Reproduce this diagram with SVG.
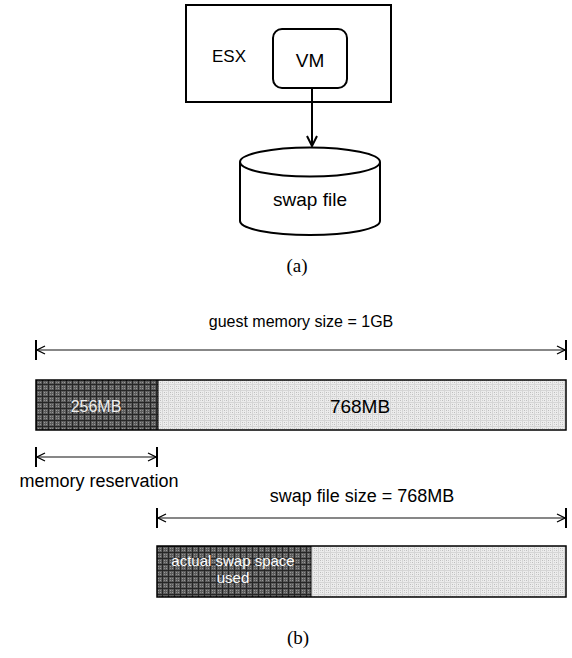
<svg xmlns="http://www.w3.org/2000/svg" width="572" height="658" viewBox="0 0 572 658">
<style>
.lbl{font-family:"Liberation Sans",Arial,sans-serif;fill:#000}
.cap{font-family:"Liberation Serif","Times New Roman",serif;fill:#000;font-size:19px}
.shape{fill:#fff;stroke:#000;stroke-width:2}
.dim{stroke:#111;stroke-width:1.2;fill:none}
.tick{stroke:#000;stroke-width:2}
</style>
<defs>
<pattern id="dark" width="6" height="6" patternUnits="userSpaceOnUse">
<rect width="6" height="6" fill="#5c5c5c"/>
<rect x="2" y="2" width="1" height="1" fill="#9a9a9a"/>
<rect x="4" y="4" width="1" height="1" fill="#9a9a9a"/>
<rect x="2" y="4" width="1" height="1" fill="#8a8a8a"/>
<rect x="4" y="2" width="1" height="1" fill="#8a8a8a"/>
<rect x="0" y="0" width="6" height="1" fill="#262626"/>
<rect x="0" y="0" width="1" height="6" fill="#262626"/>
</pattern>
<pattern id="light" width="6" height="6" patternUnits="userSpaceOnUse">
<rect width="6" height="6" fill="#ececec"/>
<rect x="2" y="2" width="1" height="1" fill="#bdbdbd"/>
<rect x="4" y="4" width="1" height="1" fill="#bdbdbd"/>
<rect x="2" y="4" width="1" height="1" fill="#cfcfcf"/>
<rect x="4" y="2" width="1" height="1" fill="#cfcfcf"/>
<rect x="0" y="0" width="6" height="1" fill="#d6d6d6"/>
<rect x="0" y="0" width="1" height="6" fill="#d6d6d6"/>
</pattern>
<marker id="open" viewBox="0 0 10 10" refX="9" refY="5" markerWidth="10" markerHeight="10" markerUnits="userSpaceOnUse" orient="auto-start-reverse">
<path d="M1,1 L9,5 L1,9" fill="none" stroke="#000" stroke-width="1.3"/>
</marker>
<marker id="down" viewBox="0 0 12 12" refX="11" refY="6" markerWidth="12" markerHeight="12" markerUnits="userSpaceOnUse" orient="auto">
<path d="M1,1 L11,6 L1,11" fill="none" stroke="#000" stroke-width="2"/>
</marker>
</defs>
<rect width="572" height="658" fill="#fff"/>

<g id="esx">
<rect class="shape" x="186" y="5" width="205" height="97"/>
<text class="lbl" x="212" y="62" font-size="17">ESX</text>
</g>
<g id="vm">
<rect class="shape" x="273" y="29" width="74" height="59" rx="9"/>
<text class="lbl" x="310" y="67" font-size="19" text-anchor="middle">VM</text>
</g>
<g id="swapfile">
<path class="shape" d="M240,162 L240,221 A70,14 0 0 0 380,221 L380,162"/>
<ellipse class="shape" cx="310" cy="162" rx="70" ry="14.5"/>
<text class="lbl" x="310" y="206" font-size="19" text-anchor="middle">swap file</text>
</g>
<g id="connectors">
<line x1="312" y1="88" x2="312" y2="146" stroke="#000" stroke-width="2" marker-end="url(#down)"/>
</g>
<text class="cap" x="297" y="272" text-anchor="middle">(a)</text>

<g id="guest-dim">
<line class="tick" x1="36" y1="340" x2="36" y2="360"/>
<line class="tick" x1="566" y1="340" x2="566" y2="360"/>
<line class="dim" x1="37" y1="350" x2="565" y2="350" marker-start="url(#open)" marker-end="url(#open)"/>
<text class="lbl" x="301" y="327" font-size="16" text-anchor="middle">guest memory size = 1GB</text>
</g>
<g id="guest-bar">
<rect x="36" y="380" width="122" height="50" fill="url(#dark)"/>
<rect x="158" y="380" width="408" height="50" fill="url(#light)"/>
<rect x="36" y="380" width="530" height="50" fill="none" stroke="#000" stroke-width="1.5"/>
<line x1="158" y1="380" x2="158" y2="430" stroke="#000" stroke-width="1"/>
<text class="lbl" x="96" y="412" font-size="16" text-anchor="middle" style="fill:#eeeeee">256MB</text>
<text class="lbl" x="360" y="413" font-size="19" text-anchor="middle">768MB</text>
</g>
<g id="reservation-dim">
<line class="tick" x1="36" y1="447" x2="36" y2="467"/>
<line class="tick" x1="157" y1="447" x2="157" y2="467"/>
<line class="dim" x1="37" y1="457" x2="156" y2="457" marker-start="url(#open)" marker-end="url(#open)"/>
<text class="lbl" x="99" y="487" font-size="18" text-anchor="middle">memory reservation</text>
</g>
<g id="swap-dim">
<line class="tick" x1="157" y1="508" x2="157" y2="528"/>
<line class="tick" x1="566" y1="508" x2="566" y2="528"/>
<line class="dim" x1="158" y1="518" x2="565" y2="518" marker-start="url(#open)" marker-end="url(#open)"/>
<text class="lbl" x="362" y="502" font-size="18" text-anchor="middle">swap file size = 768MB</text>
</g>
<g id="swap-bar">
<rect x="157" y="546" width="154" height="51" fill="url(#dark)"/>
<rect x="311" y="546" width="255" height="51" fill="url(#light)"/>
<rect x="157" y="546" width="409" height="51" fill="none" stroke="#000" stroke-width="1.5"/>
<line x1="311" y1="546" x2="311" y2="597" stroke="#000" stroke-width="1"/>
<text class="lbl" x="233" y="566" font-size="15" text-anchor="middle" style="fill:#ffffff">actual swap space</text>
<text class="lbl" x="233" y="583" font-size="15" text-anchor="middle" style="fill:#ffffff">used</text>
</g>
<text class="cap" x="298" y="644" text-anchor="middle">(b)</text>
</svg>
